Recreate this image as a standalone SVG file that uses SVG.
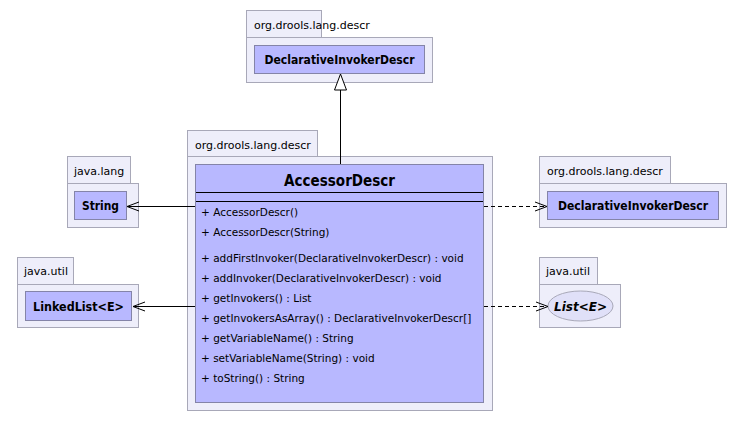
<svg xmlns="http://www.w3.org/2000/svg" width="745" height="421" viewBox="0 0 745 421">
<style>
.pkg{fill:#EEEEFA;stroke:#A8A8B8;stroke-width:1}
.cls{fill:#B8B8FF;stroke:#8484A8;stroke-width:1}
.plabel{font-family:"DejaVu Sans",sans-serif;font-size:11px;fill:#000}
.cname{font-family:"DejaVu Sans",sans-serif;font-size:12px;font-weight:bold;fill:#000}
.title{font-family:"DejaVu Sans",sans-serif;font-size:15px;font-weight:bold;fill:#000}
.m{font-family:"DejaVu Sans",sans-serif;font-size:10.5px;fill:#000}
.ln{stroke:#000;stroke-width:1;fill:none}
.dash{stroke:#000;stroke-width:1;fill:none;stroke-dasharray:4,3}
</style>
<rect width="745" height="421" fill="#FFFFFF"/>

<g id="pkg-top">
<rect class="pkg" x="246.5" y="10.5" width="75" height="27"/>
<rect class="pkg" x="246.5" y="37.5" width="186" height="45"/>
<text class="plabel" x="254" y="29">org.drools.lang.descr</text>
<g id="DeclarativeInvokerDescr-top">
<rect class="cls" x="254.5" y="45.5" width="170" height="28"/>
<text class="cname" x="339.5" y="64" text-anchor="middle" textLength="150" lengthAdjust="spacingAndGlyphs">DeclarativeInvokerDescr</text>
</g>
</g>

<g id="pkg-main">
<rect class="pkg" x="187.5" y="130.5" width="130" height="26"/>
<rect class="pkg" x="187.5" y="156.5" width="305" height="254"/>
<text class="plabel" x="195" y="149">org.drools.lang.descr</text>
<g id="AccessorDescr">
<rect class="cls" x="195.5" y="164.5" width="288" height="238"/>
<text class="title" x="339.5" y="186" text-anchor="middle" textLength="111" lengthAdjust="spacingAndGlyphs">AccessorDescr</text>
<line class="ln" x1="196" y1="192.5" x2="483" y2="192.5"/>
<line class="ln" x1="196" y1="201.5" x2="483" y2="201.5"/>
<text class="m" x="201" y="216">+ AccessorDescr()</text>
<text class="m" x="201" y="236">+ AccessorDescr(String)</text>
<text class="m" x="201" y="261.5">+ addFirstInvoker(DeclarativeInvokerDescr) : void</text>
<text class="m" x="201" y="281.5">+ addInvoker(DeclarativeInvokerDescr) : void</text>
<text class="m" x="201" y="301.5">+ getInvokers() : List</text>
<text class="m" x="201" y="321.5">+ getInvokersAsArray() : DeclarativeInvokerDescr[]</text>
<text class="m" x="201" y="341.5">+ getVariableName() : String</text>
<text class="m" x="201" y="361.5">+ setVariableName(String) : void</text>
<text class="m" x="201" y="381.5">+ toString() : String</text>
</g>
</g>

<g id="pkg-java-lang">
<rect class="pkg" x="67.5" y="156.5" width="63" height="27"/>
<rect class="pkg" x="67.5" y="183.5" width="71" height="44"/>
<text class="plabel" x="74" y="175">java.lang</text>
<g id="String">
<rect class="cls" x="74.5" y="191.5" width="52" height="28"/>
<text class="cname" x="100.5" y="210" text-anchor="middle" textLength="37" lengthAdjust="spacingAndGlyphs">String</text>
</g>
</g>

<g id="pkg-java-util-left">
<rect class="pkg" x="17.5" y="257.5" width="56" height="27"/>
<rect class="pkg" x="17.5" y="284.5" width="121" height="43"/>
<text class="plabel" x="24" y="275">java.util</text>
<g id="LinkedList">
<rect class="cls" x="25.5" y="291.5" width="106" height="29"/>
<text class="cname" x="78.5" y="311" text-anchor="middle" textLength="91" lengthAdjust="spacingAndGlyphs">LinkedList&lt;E&gt;</text>
</g>
</g>

<g id="pkg-right">
<rect class="pkg" x="539.5" y="156.5" width="131" height="27"/>
<rect class="pkg" x="539.5" y="183.5" width="187" height="44"/>
<text class="plabel" x="547" y="175">org.drools.lang.descr</text>
<g id="DeclarativeInvokerDescr-right">
<rect class="cls" x="547.5" y="191.5" width="171" height="28"/>
<text class="cname" x="633" y="210" text-anchor="middle" textLength="150" lengthAdjust="spacingAndGlyphs">DeclarativeInvokerDescr</text>
</g>
</g>

<g id="pkg-java-util-right">
<rect class="pkg" x="539.5" y="257.5" width="58" height="27"/>
<rect class="pkg" x="539.5" y="284.5" width="81" height="43"/>
<text class="plabel" x="546" y="275">java.util</text>
<g id="List">
<ellipse cx="580.5" cy="306" rx="32.5" ry="15" fill="#E0E0F8" stroke="#A8A8B8"/>
<text class="cname" x="580.5" y="310.5" text-anchor="middle" font-style="italic">List&lt;E&gt;</text>
</g>
</g>

<g id="connectors">
<line class="ln" x1="340.5" y1="164" x2="340.5" y2="90"/>
<polygon points="340.5,74 334.5,90 346.5,90" fill="#FFFFFF" stroke="#000"/>
<line class="ln" x1="195" y1="206.5" x2="127" y2="206.5"/>
<polyline class="ln" points="139,202 127,206.5 139,211"/>
<line class="ln" x1="195" y1="306.5" x2="133" y2="306.5"/>
<polyline class="ln" points="145,302 133,306.5 145,311"/>
<line class="dash" x1="484" y1="206.5" x2="546" y2="206.5"/>
<polyline class="ln" points="535,202 547,206.5 535,211"/>
<line class="dash" x1="484" y1="306.5" x2="546" y2="306.5"/>
<polyline class="ln" points="536,302 548,306.5 536,311"/>
</g>
</svg>
